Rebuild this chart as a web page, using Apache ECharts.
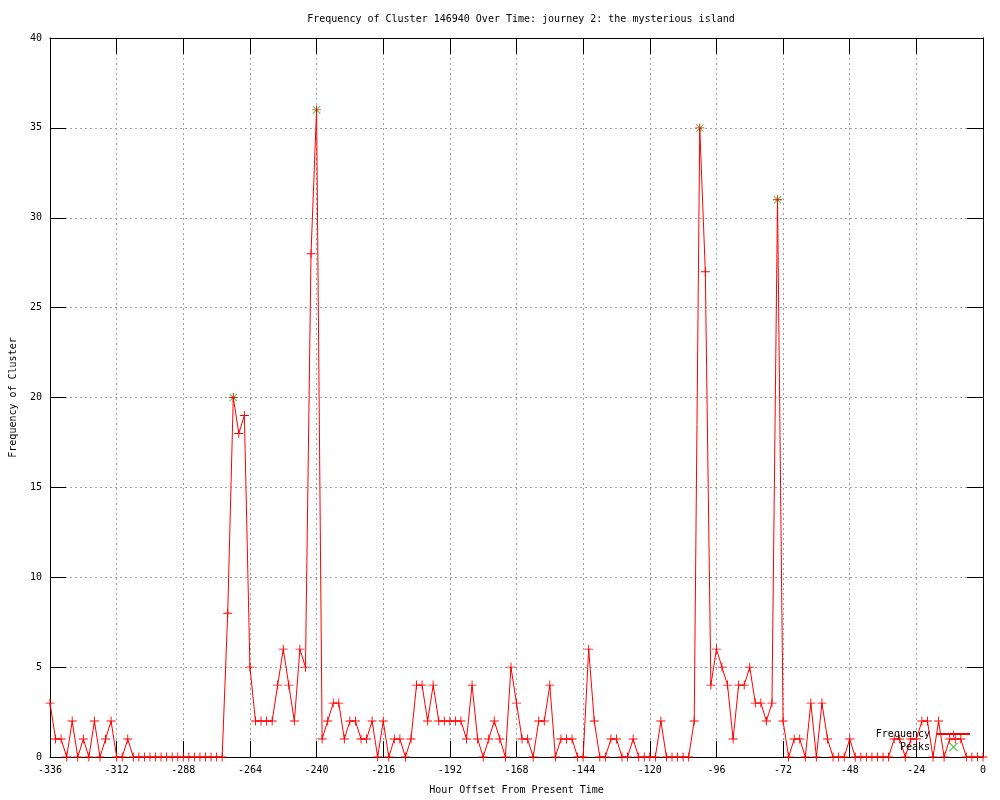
<!DOCTYPE html>
<html>
<head>
<meta charset="utf-8">
<script src="https://cdn.jsdelivr.net/npm/echarts@6/dist/echarts.min.js"></script>
<style>html,body{margin:0;padding:0;background:#fff;}#c{width:1000px;height:800px;}</style>
</head>
<body>
<div id="c"></div>
<script>
var hours = [-336,-334,-332,-330,-328,-326,-324,-322,-320,-318,-316,-314,-312,-310,-308,-306,-304,-302,-300,-298,-296,-294,-292,-290,-288,-286,-284,-282,-280,-278,-276,-274,-272,-270,-268,-266,-264,-262,-260,-258,-256,-254,-252,-250,-248,-246,-244,-242,-240,-238,-236,-234,-232,-230,-228,-226,-224,-222,-220,-218,-216,-214,-212,-210,-208,-206,-204,-202,-200,-198,-196,-194,-192,-190,-188,-186,-184,-182,-180,-178,-176,-174,-172,-170,-168,-166,-164,-162,-160,-158,-156,-154,-152,-150,-148,-146,-144,-142,-140,-138,-136,-134,-132,-130,-128,-126,-124,-122,-120,-118,-116,-114,-112,-110,-108,-106,-104,-102,-100,-98,-96,-94,-92,-90,-88,-86,-84,-82,-80,-78,-76,-74,-72,-70,-68,-66,-64,-62,-60,-58,-56,-54,-52,-50,-48,-46,-44,-42,-40,-38,-36,-34,-32,-30,-28,-26,-24,-22,-20,-18,-16,-14,-12,-10,-8,-6,-4,-2,0];
var frequency = [3,1,1,0,2,0,1,0,2,0,1,2,0,0,1,0,0,0,0,0,0,0,0,0,0,0,0,0,0,0,0,0,8,20,18,19,5,2,2,2,2,4,6,4,2,6,5,28,36,1,2,3,3,1,2,2,1,1,2,0,2,0,1,1,0,1,4,4,2,4,2,2,2,2,2,1,4,1,0,1,2,1,0,5,3,1,1,0,2,2,4,0,1,1,1,0,0,6,2,0,0,1,1,0,0,1,0,0,0,0,2,0,0,0,0,0,2,35,27,4,6,5,4,1,4,4,5,3,3,2,3,31,2,0,1,1,0,3,0,3,1,0,0,0,1,0,0,0,0,0,0,0,1,1,0,1,1,2,2,0,2,0,1,1,1,0,0,0,0];
var peakHours = [-270,-240,-102,-74];
var peakValues = [20,36,35,31];
var xTicks = [-336,-312,-288,-264,-240,-216,-192,-168,-144,-120,-96,-72,-48,-24,0];
var yTicks = [0,5,10,15,20,25,30,35,40];

var freqData = hours.map(function(h,i){return [h, frequency[i]];});
var peakData = peakHours.map(function(h,i){return [h, peakValues[i]];});

var FONT = '"DejaVu Sans Mono", monospace';
var plusPath = 'path://M0,4.5 L10,4.5 L10,5.5 L0,5.5 Z M4.5,0 L5.5,0 L5.5,10 L4.5,10 Z';
var crossPath = 'path://M0,0.8 L0.8,0 L10,9.2 L9.2,10 Z M9.2,0 L10,0.8 L0.8,10 L0,9.2 Z';

var chart = echarts.init(document.getElementById('c'), null, {renderer:'canvas'});
var gridLine = {show:true, lineStyle:{color:'#a0a0a0', width:1, type:[2,3]}};
var axisLine = {show:true, onZero:false, lineStyle:{color:'#000', width:1}};
chart.setOption({
  animation:false,
  backgroundColor:'#fff',
  title:{
    text:'Frequency of Cluster 146940 Over Time: journey 2: the mysterious island',
    left:516, top:9, textAlign:'center',
    textStyle:{fontFamily:FONT, fontSize:10, fontWeight:'normal', color:'#000'}
  },
  grid:{left:49, right:17, top:38, bottom:40, containLabel:false},
  legend:{
    orient:'vertical', right:24, top:724, align:'right',
    itemWidth:33, itemHeight:9, itemGap:3,
    textStyle:{fontFamily:FONT, fontSize:10, color:'#000', padding:[0,2,0,0]},
    data:['Frequency','Peaks']
  },
  xAxis:[{
    type:'value', min:-336, max:0, interval:24, position:'bottom',
    name:'Hour Offset From Present Time', nameLocation:'middle', nameGap:28,
    nameTextStyle:{fontFamily:FONT, fontSize:10, color:'#000'},
    axisLine:axisLine,
    axisTick:{show:true, inside:true, length:16, lineStyle:{color:'#000'}},
    axisLabel:{fontFamily:FONT, fontSize:10, color:'#000', margin:8,
      customValues: xTicks},
    splitLine:gridLine
  },{
    type:'value', min:-336, max:0, interval:24, position:'top',
    axisLine:axisLine,
    axisTick:{show:true, inside:true, length:16, lineStyle:{color:'#000'}},
    axisLabel:{show:false}, splitLine:{show:false}
  }],
  yAxis:[{
    type:'value', min:0, max:40, interval:5, position:'left',
    name:'Frequency of Cluster', nameLocation:'middle', nameGap:32,
    nameTextStyle:{fontFamily:FONT, fontSize:10, color:'#000'},
    axisLine:axisLine,
    axisTick:{show:true, inside:true, length:16, lineStyle:{color:'#000'}},
    axisLabel:{fontFamily:FONT, fontSize:10, color:'#000', margin:8},
    splitLine:gridLine
  },{
    type:'value', min:0, max:40, interval:5, position:'right',
    axisLine:axisLine,
    axisTick:{show:true, inside:true, length:16, lineStyle:{color:'#000'}},
    axisLabel:{show:false}, splitLine:{show:false}
  }],
  series:[{
    name:'Frequency', type:'line', data:freqData,
    xAxisIndex:0, yAxisIndex:0,
    showAllSymbol:true, symbol:plusPath, symbolSize:9,
    lineStyle:{color:'#ff0000', width:1},
    itemStyle:{color:'#ff0000'},
    emphasis:{disabled:true}
  },{
    name:'Peaks', type:'scatter', data:peakData,
    xAxisIndex:0, yAxisIndex:0,
    symbol:crossPath, symbolSize:8,
    itemStyle:{color:'#00c000'},
    emphasis:{disabled:true}
  }]
});
</script>
</body>
</html>
